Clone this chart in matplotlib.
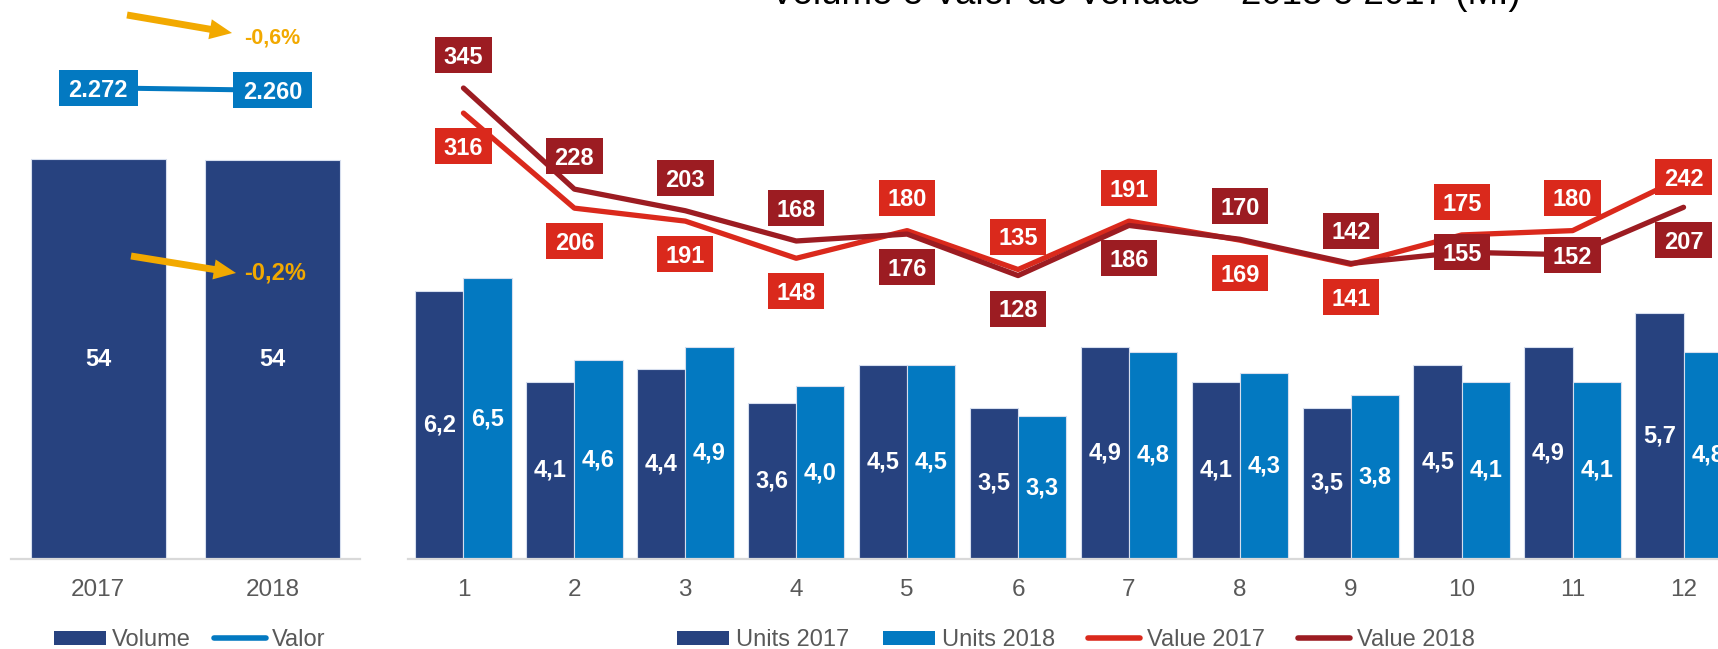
import matplotlib
matplotlib.use('Agg')
import matplotlib.pyplot as plt
from matplotlib.path import Path
from matplotlib.patches import FancyArrowPatch, Patch
from matplotlib.lines import Line2D
import numpy as np

plt.rcParams['font.family'] = ['Liberation Sans', 'DejaVu Sans']

# ---------------- data ----------------
years = ['2017', '2018']
volume = [54.0, 53.9]
valor = [2272, 2260]
valor_labels = ['2.272', '2.260']
volume_change = '-0,2%'
valor_change = '-0,6%'

months = ['1', '2', '3', '4', '5', '6', '7', '8', '9', '10', '11', '12']
units_2017 = [6.2, 4.1, 4.4, 3.6, 4.5, 3.5, 4.9, 4.1, 3.5, 4.5, 4.9, 5.7]
units_2018 = [6.5, 4.6, 4.9, 4.0, 4.5, 3.3, 4.8, 4.3, 3.8, 4.1, 4.1, 4.8]
value_2017 = [316, 206, 191, 148, 180, 135, 191, 169, 141, 175, 180, 242]
value_2018 = [345, 228, 203, 168, 176, 128, 186, 170, 142, 155, 152, 207]

title = 'Volume e Valor de Vendas – 2018 e 2017 (M.)'

# ---------------- styles ----------------
NAVY = '#27427F'
BLUE = '#0379C1'
RED = '#DA291C'
DRED = '#9C1C22'
ORANGE = '#F2A900'
GRAY = '#595959'
AXIS = '#D9D9D9'
EDGE = '#D6DEEE'
LBL = 17

pos_2017 = ['below', 'below', 'below', 'below', 'above', 'above', 'above',
            'below', 'below', 'above', 'above', 'center']
pos_2018 = ['above', 'above', 'above', 'above', 'below', 'below', 'below',
            'above', 'above', 'center', 'center', 'below']
OFF = {'above': 33, 'below': -33, 'center': 0}

W, H = 1718, 649
fig = plt.figure(figsize=(W / 100, H / 100), dpi=100)


def fx(x):
    return x / W


def fy(y):
    return 1 - y / H


def make_box(padx=0.36, pad_bottom=0.18, pad_top=0.37):
    def box(x0, y0, width, height, mutation_size):
        dx = padx * mutation_size
        b = pad_bottom * mutation_size
        t = pad_top * mutation_size
        verts = [(x0 - dx, y0 - b), (x0 + width + dx, y0 - b),
                 (x0 + width + dx, y0 + height + t), (x0 - dx, y0 + height + t),
                 (x0 - dx, y0 - b)]
        return Path(verts, closed=True)
    return box


def label_box(ax, x, y, text, color, off_px, size=LBL, padx=0.36):
    ax.annotate(text, (x, y), xytext=(0, off_px - 2.3), textcoords='offset pixels',
                ha='center', va='center', fontsize=size, fontweight='bold',
                color='white', zorder=10,
                bbox=dict(boxstyle=make_box(padx=padx), facecolor=color,
                          edgecolor='none'))


def style_axis(ax):
    for s in ['top', 'left', 'right']:
        ax.spines[s].set_visible(False)
    ax.spines['bottom'].set_color(AXIS)
    ax.spines['bottom'].set_linewidth(1.6)
    ax.set_yticks([])
    ax.tick_params(axis='x', length=0, labelsize=17.5, labelcolor=GRAY, pad=14.5)
    ax.patch.set_alpha(0)


base = (H - 559) / H
hgt = 518.5 / H

# ---------------- left panel ----------------
axL = fig.add_axes([fx(11), base, 349 / W, hgt])
xl = np.arange(len(years))
axL.bar(xl, volume, width=0.774, color=NAVY, edgecolor=EDGE, linewidth=0.8)
axL.set_xlim(-0.5, 1.5)
axL.set_ylim(0, 70)
axL.set_xticks(xl)
axL.set_xticklabels(years)
style_axis(axL)
for i, v in enumerate(volume):
    axL.text(xl[i], v / 2, f'{v:.0f}', ha='center', va='center', color='white',
             fontsize=LBL, fontweight='bold')

axL2 = axL.twinx()
axL2.set_ylim(0, 2500)
axL2.plot(xl, valor, color=BLUE, lw=3.6, solid_capstyle='round')
for s in axL2.spines.values():
    s.set_visible(False)
axL2.set_yticks([])
for i, v in enumerate(valor):
    label_box(axL2, xl[i], v, valor_labels[i], BLUE, 0, padx=0.42)

# ---------------- right panel ----------------
axR = fig.add_axes([fx(408), base, 1331 / W, hgt])
x = np.arange(1, len(months) + 1)
bw = 0.435
axR.bar(x - bw / 2, units_2017, width=bw, color=NAVY, edgecolor=EDGE, linewidth=0.8,
        label='Units 2017')
axR.bar(x + bw / 2, units_2018, width=bw, color=BLUE, edgecolor=EDGE, linewidth=0.8,
        label='Units 2018')
axR.set_xlim(0.5, 12.5)
axR.set_ylim(0, 12)
axR.set_xticks(x)
axR.set_xticklabels(months)
style_axis(axR)
for i in range(len(months)):
    axR.text(x[i] - bw / 2, units_2017[i] / 2, f'{units_2017[i]:.1f}'.replace('.', ','),
             ha='center', va='center', color='white', fontsize=LBL, fontweight='bold')
    axR.text(x[i] + bw / 2, units_2018[i] / 2, f'{units_2018[i]:.1f}'.replace('.', ','),
             ha='center', va='center', color='white', fontsize=LBL, fontweight='bold')

axR2 = axR.twinx()
axR2.set_ylim(-200, 400)
axR2.plot(x, value_2017, color=RED, lw=3.8, solid_capstyle='round',
          solid_joinstyle='round')
axR2.plot(x, value_2018, color=DRED, lw=3.8, solid_capstyle='round',
          solid_joinstyle='round')
for s in axR2.spines.values():
    s.set_visible(False)
axR2.set_yticks([])
for i in range(len(months)):
    label_box(axR2, x[i], value_2017[i], f'{value_2017[i]}', RED, OFF[pos_2017[i]])
    label_box(axR2, x[i], value_2018[i], f'{value_2018[i]}', DRED, OFF[pos_2018[i]])

# ---------------- arrows & changes ----------------
for (x0, y0, x1, y1), txt, ty, sz in [((127, 15, 232, 33), valor_change, 38, 15.5),
                                      ((131, 256, 236, 273), volume_change, 273, 17)]:
    arr = FancyArrowPatch((fx(x0), fy(y0)), (fx(x1), fy(y1)), transform=fig.transFigure,
                          arrowstyle='simple,head_width=14.5,head_length=16,tail_width=5',
                          mutation_scale=1, shrinkA=0, shrinkB=0, color=ORANGE,
                          linewidth=0, zorder=20)
    fig.patches.append(arr)
    fig.text(fx(244), fy(ty), txt, ha='left', va='center', color=ORANGE,
             fontsize=sz, fontweight='bold', zorder=21)

# ---------------- title ----------------
fig.text(fx(1145), fy(4.5), title, ha='center', va='baseline', fontsize=26.5,
         color='black')

# ---------------- legends ----------------
hL = [Patch(facecolor=NAVY), Line2D([], [], color=BLUE, lw=4, solid_capstyle='round')]
fig.legend(hL, ['Volume', 'Valor'], loc='center', bbox_to_anchor=(fx(190), 9 / H),
           ncol=2, frameon=False, fontsize=17, handlelength=2.2, handleheight=0.55,
           handletextpad=0.25, columnspacing=1.0, labelcolor=GRAY, borderpad=0,
           borderaxespad=0)

hR = [Patch(facecolor=NAVY), Patch(facecolor=BLUE),
      Line2D([], [], color=RED, lw=4, solid_capstyle='round'),
      Line2D([], [], color=DRED, lw=4, solid_capstyle='round')]
fig.legend(hR, ['Units 2017', 'Units 2018', 'Value 2017', 'Value 2018'], loc='center',
           bbox_to_anchor=(fx(1076), 9 / H), ncol=4, frameon=False, fontsize=17,
           handlelength=2.2, handleheight=0.55, handletextpad=0.3, columnspacing=1.4,
           labelcolor=GRAY, borderpad=0, borderaxespad=0)

fig.savefig('out.png', dpi=100)
